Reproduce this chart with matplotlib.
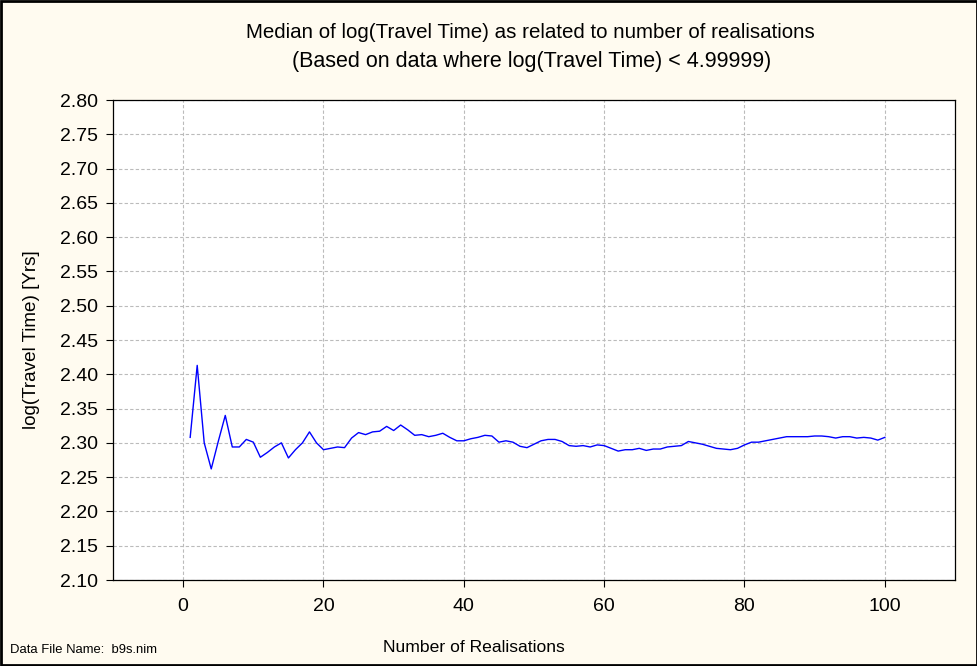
import numpy as np
import matplotlib.pyplot as plt
from matplotlib.patches import Rectangle

plt.rcParams["font.family"] = ["Liberation Sans", "DejaVu Sans"]

# Median of log(travel time) after each number of realisations
realisations = np.arange(1, 101)
median_log_tt = [
    2.308, 2.413, 2.300, 2.262, 2.302, 2.340, 2.294, 2.294, 2.305, 2.301,
    2.279, 2.286, 2.294, 2.300, 2.278, 2.290, 2.300, 2.316, 2.300, 2.290,
    2.292, 2.294, 2.293, 2.307, 2.315, 2.312, 2.316, 2.317, 2.324, 2.318,
    2.326, 2.319, 2.311, 2.312, 2.309, 2.311, 2.314, 2.308, 2.303, 2.303,
    2.306, 2.308, 2.311, 2.310, 2.301, 2.303, 2.301, 2.295, 2.293, 2.298,
    2.303, 2.305, 2.305, 2.302, 2.296, 2.295, 2.296, 2.294, 2.297, 2.296,
    2.292, 2.288, 2.290, 2.290, 2.292, 2.289, 2.291, 2.291, 2.294, 2.295,
    2.296, 2.302, 2.300, 2.298, 2.295, 2.292, 2.291, 2.290, 2.292, 2.297,
    2.301, 2.301, 2.303, 2.305, 2.307, 2.309, 2.309, 2.309, 2.309, 2.310,
    2.310, 2.309, 2.307, 2.309, 2.309, 2.307, 2.308, 2.307, 2.304, 2.308,
]

x_ticks = [0, 20, 40, 60, 80, 100]
y_ticks = np.round(np.arange(2.10, 2.801, 0.05), 2)

BG = "#FFFBF0"

fig = plt.figure(figsize=(9.78, 6.66), dpi=100, facecolor=BG)
ax = fig.add_axes([113 / 978, 1 - 580 / 666, 842 / 978, 480 / 666])
ax.set_facecolor("white")

ax.plot(realisations, median_log_tt, color="#0000FF", linewidth=1.0)

ax.set_xlim(-10, 110)
ax.set_ylim(2.10, 2.80)
ax.set_xticks(x_ticks)
ax.set_yticks(y_ticks)
ax.set_yticklabels([f"{v:.2f}" for v in y_ticks])

ax.grid(True, color="#BBBBBB", linestyle=(0, (3, 2)), linewidth=0.8)
ax.tick_params(direction="out", length=5, width=0.8, labelsize=14)
ax.tick_params(axis="x", pad=8)
ax.tick_params(axis="y", pad=6)
for s in ax.spines.values():
    s.set_linewidth(0.9)

# titles and labels
fig.text(530 / 978, 1 - 32 / 666,
         "Median of log(Travel Time) as related to number of realisations",
         ha="center", va="center", fontsize=14.8)
fig.text(532 / 978, 1 - 62 / 666,
         "(Based on data where log(Travel Time) < 4.99999)",
         ha="center", va="center", fontsize=15.5)
fig.text(474 / 978, 1 - 647 / 666, "Number of Realisations",
         ha="center", va="center", fontsize=12.6)
fig.text(32 / 978, 1 - 340 / 666, "log(Travel Time) [Yrs]",
         ha="center", va="center", rotation=90, fontsize=13.6)
fig.text(10 / 978, 1 - 650 / 666, "Data File Name:  b9s.nim",
         ha="left", va="center", fontsize=9.4)

# outer frame
fig.patches.append(Rectangle((0.001, 0.0015), 0.998, 0.997,
                             transform=fig.transFigure, fill=False,
                             edgecolor="black", linewidth=2))

fig.savefig("out.png", dpi=100, facecolor=BG)
